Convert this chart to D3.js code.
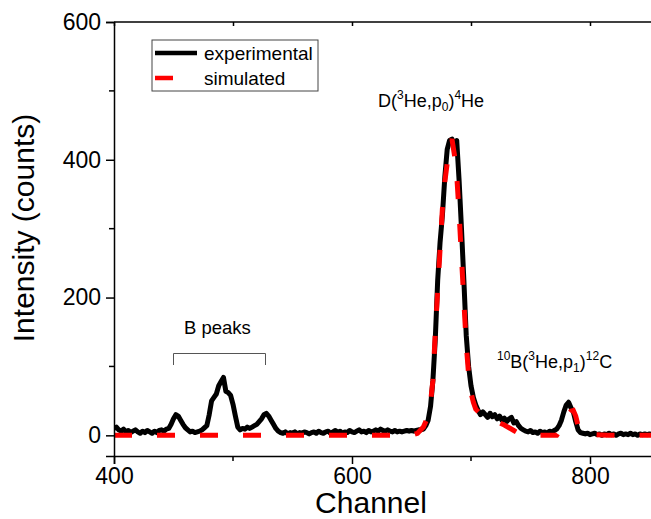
<!DOCTYPE html>
<html>
<head>
<meta charset="utf-8">
<script src="https://cdn.jsdelivr.net/npm/d3@7"></script>
<style>
  html, body { margin: 0; padding: 0; background: #fff; }
  svg { display: block; font-family: "Liberation Sans", Arial, sans-serif; }
</style>
</head>
<body>
<svg id="chart" width="651" height="519"></svg>
<script>
// ---------- data ----------
const experimental = [
  [400,10],[402,12],[404,8],[406,6],[408,9],[410,5],[412,7],[414,4],[416,6],[418,8],
  [420,5],[422,3],[424,6],[426,4],[428,7],[430,5],[432,3],[434,6],[436,4],[438,7],
  [440,8],[442,6],[444,9],[446,10],[448,16],[450,24],[452,30],[454,28],[456,22],[458,16],
  [460,11],[462,8],[464,5],[466,6],[468,4],[470,5],[472,6],[474,8],[476,11],[478,14],
  [480,30],[482,50],[484,55],[486,60],[488,72],[490,78],[492,84],[494,64],[496,62],[498,58],
  [500,45],[502,28],[504,12],[506,8],[508,10],[510,9],[512,12],[514,10],[516,12],[518,14],
  [520,16],[522,20],[524,24],[526,30],[528,32],[530,28],[532,22],[534,16],[536,10],[538,6],
  [540,4],[542,3],[544,5],[546,2],[548,4],[550,3],[552,5],[554,2],[556,4],[558,3],
  [560,5],[562,4],[564,2],[566,4],[568,5],[570,3],[572,6],[574,4],[576,3],[578,5],
  [580,6],[582,3],[584,5],[586,7],[588,4],[590,6],[592,3],[594,5],[596,4],[598,7],
  [600,5],[602,4],[604,6],[606,8],[608,5],[610,6],[612,4],[614,7],[616,5],[618,6],
  [620,8],[622,6],[624,9],[626,7],[628,6],[630,8],[632,6],[634,5],[636,7],[638,5],
  [640,6],[642,5],[644,6],[646,7],[648,6],[650,7],[652,6],[654,7],[656,8],[658,8],
  [660,9],[662,14],[664,22],[666,42],[668,80],[670,140],[672,225],[674,280],[676,320],[678,375],
  [680,415],[682,428],[684,430],[686,420],[688,428],[690,370],[692,300],[694,225],[696,145],[698,100],
  [700,72],[702,55],[704,44],[706,36],[708,30],[710,34],[712,30],[714,26],[716,32],[718,27],
  [720,30],[722,24],[724,28],[726,22],[728,25],[730,20],[732,24],[734,26],[736,18],[738,20],
  [740,14],[742,10],[744,8],[746,6],[748,5],[750,7],[752,4],[754,5],[756,3],[758,6],
  [760,4],[762,5],[764,3],[766,6],[768,5],[770,7],[772,9],[774,14],[776,22],[778,34],
  [780,44],[782,48],[784,40],[786,34],[788,20],[790,8],[792,4],[794,3],[796,2],[798,3],
  [800,1],[802,2],[804,3],[806,1],[808,2],[810,0],[812,2],[814,1],[816,3],[818,1],
  [820,2],[822,0],[824,2],[826,3],[828,1],[830,2],[832,1],[834,3],[836,1],[838,2],
  [840,0],[842,2],[844,1],[846,2],[848,1],[850,2],[852,1],[854,2]
];
const simulated = [
  [400,0],[650,0],[655,3],[660,12],[664,28],[666,48],[668,80],[670,150],[672,210],[674,270],
  [676,330],[678,368],[680,395],[682,420],[684,430],[686,408],[688,378],[690,322],[692,258],[694,195],
  [696,132],[698,88],[700,62],[702,48],[704,38],[708,31],[712,27],[716,24],[720,21],[724,18],
  [728,15],[732,11],[736,7],[740,3],[744,1],[748,0],[772,0],[775,8],[778,19],[781,28],
  [784,35],[786,36],[788,28],[790,14],[792,5],[795,2],[805,1],[815,0],[900,0]
];
const xMajorTicks = [400, 600, 800];
const xMinorTicks = [500, 700];
const xTopTicks = [400, 500, 600, 700, 800];
const yMajorTicks = [0, 200, 400, 600];
const yMinorTicks = [100, 300, 500];
const legendLabels = ["experimental", "simulated"];

// ---------- drawing ----------
const svg = d3.select("#chart");
const x = d3.scaleLinear().domain([400, 900]).range([114, 709]);
const y = d3.scaleLinear().domain([-30, 600]).range([456, 22]);

svg.append("defs").append("clipPath").attr("id", "clip")
  .append("rect").attr("x", 114).attr("y", 22).attr("width", 595).attr("height", 434);

const plot = svg.append("g").attr("clip-path", "url(#clip)");
const line = d3.line().x(d => x(d[0])).y(d => y(d[1]));

plot.append("path").datum(experimental)
  .attr("d", line).attr("fill", "none")
  .attr("stroke", "#000").attr("stroke-width", 5)
  .attr("stroke-linejoin", "round").attr("stroke-linecap", "round");

plot.append("path").datum(simulated)
  .attr("d", line).attr("fill", "none")
  .attr("stroke", "#ff0000").attr("stroke-width", 5)
  .attr("stroke-dasharray", "18,25");

// axes
const axisFont = 23;
const gx = svg.append("g").attr("transform", `translate(0,${y(-30)})`)
  .call(d3.axisBottom(x).tickValues(xMajorTicks).tickSize(8).tickPadding(4).tickFormat(d3.format("d")));
gx.append("g").selectAll("line").data(xMinorTicks).join("line")
  .attr("x1", d => x(d)).attr("x2", d => x(d)).attr("y1", 0).attr("y2", 5)
  .attr("stroke", "#000").attr("stroke-width", 1.5);

const gy = svg.append("g").attr("transform", `translate(${x(400)},0)`)
  .call(d3.axisLeft(y).tickValues(yMajorTicks).tickSize(8).tickPadding(5).tickFormat(d3.format("d")));
gy.append("g").selectAll("line").data(yMinorTicks).join("line")
  .attr("x1", 0).attr("x2", -5).attr("y1", d => y(d)).attr("y2", d => y(d))
  .attr("stroke", "#000").attr("stroke-width", 1.5);

const gt = svg.append("g").attr("transform", `translate(0,${y(600)})`)
  .call(d3.axisBottom(x).tickValues(xTopTicks).tickSize(4).tickFormat(""));

[gx, gy, gt].forEach(g => {
  g.select(".domain").attr("stroke", "#000").attr("stroke-width", 1.5);
  g.selectAll(".tick line").attr("stroke", "#000").attr("stroke-width", 1.5);
  g.selectAll(".tick text").attr("font-size", axisFont).attr("fill", "#000")
    .attr("font-family", "Liberation Sans, Arial, sans-serif");
});
gt.select(".domain").attr("d", `M${x(400)},0H${x(900)}`);

// axis titles
svg.append("text").attr("x", 371).attr("y", 513).attr("text-anchor", "middle")
  .attr("font-size", 30).text("Channel");
svg.append("text").attr("transform", "translate(34,228) rotate(-90)")
  .attr("text-anchor", "middle").attr("font-size", 30).text("Intensity (counts)");

// legend
const lg = svg.append("g");
lg.append("rect").attr("x", 152).attr("y", 40).attr("width", 166).attr("height", 51)
  .attr("fill", "#fff").attr("stroke", "#444").attr("stroke-width", 1);
lg.append("line").attr("x1", 155).attr("x2", 197).attr("y1", 53).attr("y2", 53)
  .attr("stroke", "#000").attr("stroke-width", 4.5);
lg.append("line").attr("x1", 155).attr("x2", 173).attr("y1", 78).attr("y2", 78)
  .attr("stroke", "#ff0000").attr("stroke-width", 4.5);
lg.selectAll("text.lbl").data(legendLabels).join("text").attr("class", "lbl")
  .attr("x", 204).attr("y", (d, i) => 60 + i * 25).attr("font-size", 19).text(d => d);

// annotations
const big = 18, small = 12;
const a1 = svg.append("text").attr("x", 378).attr("y", 107).attr("font-size", big);
a1.append("tspan").text("D(");
a1.append("tspan").attr("font-size", small).attr("dy", -8).text("3");
a1.append("tspan").attr("dy", 8).text("He,p");
a1.append("tspan").attr("font-size", small).attr("dy", 4).text("0");
a1.append("tspan").attr("dy", -4).text(")");
a1.append("tspan").attr("font-size", small).attr("dy", -8).text("4");
a1.append("tspan").attr("dy", 8).text("He");

svg.append("text").attr("x", 184).attr("y", 334).attr("font-size", 18.5).text("B peaks");
svg.append("path").attr("d", "M173.5,365V353.5H265.5V365").attr("fill", "none")
  .attr("stroke", "#555").attr("stroke-width", 1);

const a2 = svg.append("text").attr("x", 497).attr("y", 368).attr("font-size", big);
a2.append("tspan").attr("font-size", small).attr("dy", -8).text("10");
a2.append("tspan").attr("dy", 8).text("B(");
a2.append("tspan").attr("font-size", small).attr("dy", -8).text("3");
a2.append("tspan").attr("dy", 8).text("He,p");
a2.append("tspan").attr("font-size", small).attr("dy", 4).text("1");
a2.append("tspan").attr("dy", -4).text(")");
a2.append("tspan").attr("font-size", small).attr("dy", -8).text("12");
a2.append("tspan").attr("dy", 8).text("C");
</script>
</body>
</html>
